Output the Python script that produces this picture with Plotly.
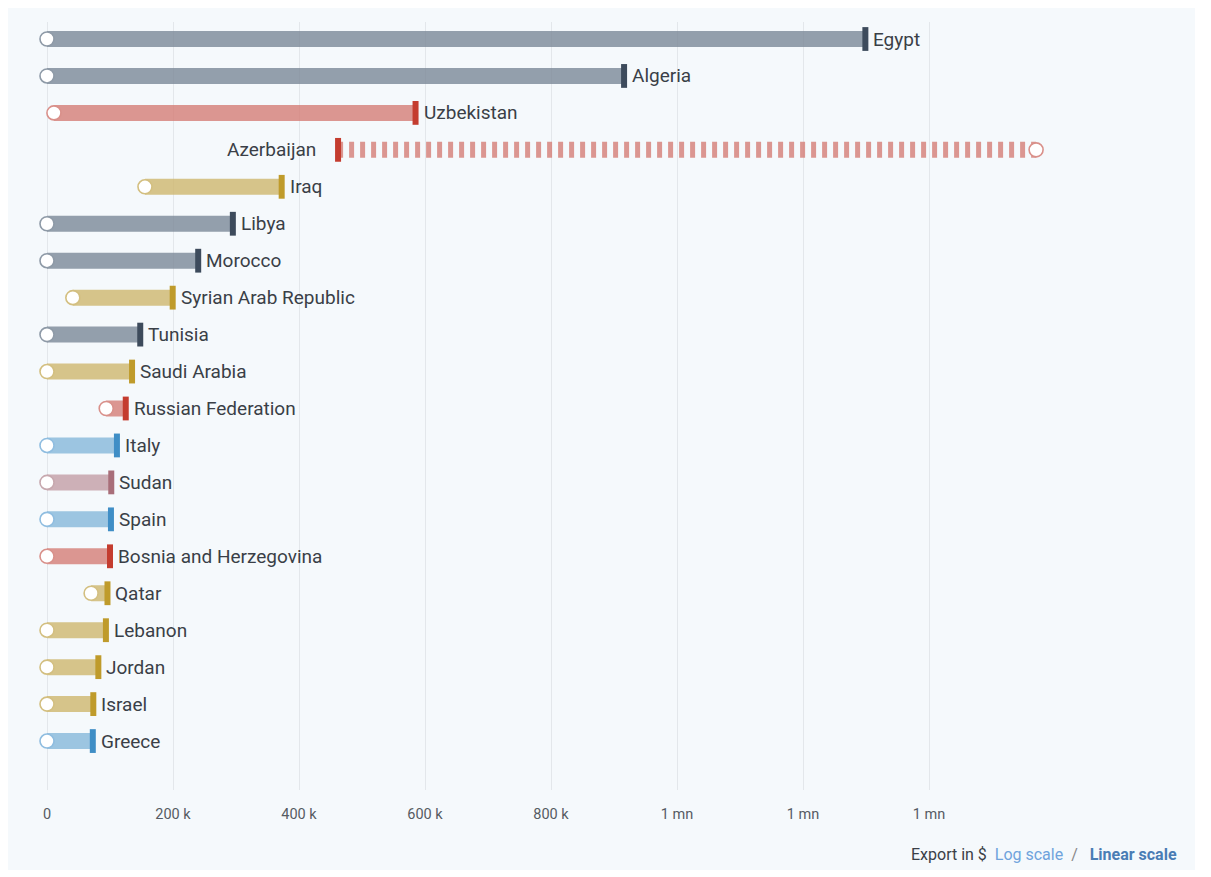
import plotly.graph_objects as go

countries = ["Egypt", "Algeria", "Uzbekistan", "Azerbaijan", "Iraq", "Libya", "Morocco",
             "Syrian Arab Republic", "Tunisia", "Saudi Arabia", "Russian Federation", "Italy",
             "Sudan", "Spain", "Bosnia and Herzegovina", "Qatar", "Lebanon", "Jordan",
             "Israel", "Greece"]
start_values = [0, 0, 11000, 1570000, 155500, 0, 0, 41000, 0, 0, 94000, 0,
                0, 0, 0, 70000, 0, 0, 0, 0]
end_values = [1299000, 916000, 585000, 462000, 372500, 295000, 240000, 199500, 148000, 135000,
              125000, 111000, 102000, 101500, 100000, 96000, 93500, 81500, 73500, 72700]
groups = ["grey", "grey", "red", "red", "yellow", "grey", "grey", "yellow", "grey", "yellow",
          "red", "blue", "mauve", "blue", "red", "yellow", "yellow", "yellow", "yellow", "blue"]

tick_vals = [0, 200000, 400000, 600000, 800000, 1000000, 1200000, 1400000]
tick_text = ["0", "200 k", "400 k", "600 k", "800 k", "1 mn", "1 mn", "1 mn"]

bar_colors = {
    "grey": "rgba(122,136,151,0.8)",
    "red": "rgba(213,125,117,0.8)",
    "yellow": "rgba(206,183,109,0.8)",
    "blue": "rgba(134,184,218,0.8)",
    "mauve": "rgba(195,158,165,0.8)",
}
ring_colors = {
    "grey": "#8e9aa7",
    "red": "#d9908a",
    "yellow": "#d3bf80",
    "blue": "#8fbde0",
    "mauve": "#c7a8ae",
}
end_colors = {
    "grey": "#3d4b5c",
    "red": "#c43c2f",
    "yellow": "#bf9b2b",
    "blue": "#3f8ec6",
    "mauve": "#a86e79",
}

FONT = "Roboto, 'Noto Sans', sans-serif"
fig = go.Figure()

n = len(countries)
ys = list(range(n))

# bars
for i in range(n):
    s, e, g = start_values[i], end_values[i], groups[i]
    decreasing = s > e
    fig.add_trace(go.Scatter(
        x=[s, e], y=[i, i], mode="lines",
        line=dict(color=bar_colors[g], width=16, dash="5px,6px" if decreasing else "solid"),
        hoverinfo="skip", showlegend=False,
    ))

# end markers
fig.add_trace(go.Scatter(
    x=end_values, y=ys, mode="markers",
    marker=dict(symbol="line-ns", size=17,
                line=dict(width=6, color=[end_colors[g] for g in groups])),
    hoverinfo="skip", showlegend=False, cliponaxis=False,
))

# start circles
fig.add_trace(go.Scatter(
    x=start_values, y=ys, mode="markers",
    marker=dict(symbol="circle", size=14, color="white",
                line=dict(width=1.6, color=[ring_colors[g] for g in groups])),
    hoverinfo="skip", showlegend=False, cliponaxis=False,
))

# labels
for i in range(n):
    s, e = start_values[i], end_values[i]
    if s > e:
        fig.add_annotation(x=e, y=i, text=countries[i], showarrow=False,
                           xanchor="right", xshift=-20, yanchor="middle",
                           font=dict(family=FONT, size=19, color="#3a3f47"))
    else:
        fig.add_annotation(x=e, y=i, text=countries[i], showarrow=False,
                           xanchor="left", xshift=6, yanchor="middle",
                           font=dict(family=FONT, size=19, color="#3a3f47"))

OFF = 8  # page body margin
W, H = 1211, 877
L, R, T, B = 20 - OFF, 1090 - OFF, 22 - OFF, 790 - OFF
px_per = 0.00063
zero_px = 47 - OFF
x0 = -(zero_px - L) / px_per
x1 = (R - zero_px) / px_per
row0, row_step = 39 - OFF, 36.95
y_top = (T - row0) / row_step
y_bot = (B - row0) / row_step

def px_to_paper_x(px):
    return (px - OFF - L) / (R - L)

def px_to_paper_y(py):
    return (B - (py - OFF)) / (B - T)

# panel background
fig.add_shape(type="rect", xref="paper", yref="paper",
              x0=px_to_paper_x(7), x1=px_to_paper_x(1195),
              y0=px_to_paper_y(870), y1=px_to_paper_y(-10),
              fillcolor="#f5f9fc", line=dict(width=0), layer="below")

fig.add_annotation(
    xref="paper", yref="paper", x=px_to_paper_x(1179), y=px_to_paper_y(854),
    xanchor="right", yanchor="middle", showarrow=False,
    text="Export in $  <span style='color:#6fa3dc'>Log scale</span>  <span style='color:#888'>/</span>   "
         "<b><span style='color:#4a7db5'>Linear scale</span></b>",
    font=dict(family=FONT, size=16, color="#3a3f47"),
)

fig.update_layout(
    width=W, height=H,
    margin=dict(l=L, r=W - R, t=T, b=H - B, pad=0),
    paper_bgcolor="white", plot_bgcolor="rgba(0,0,0,0)",
    showlegend=False,
    xaxis=dict(range=[x0, x1], tickvals=tick_vals, ticktext=tick_text,
               showgrid=True, gridcolor="#e3e7eb", gridwidth=1, zeroline=False,
               showline=False, ticks="outside", ticklen=11, tickcolor="rgba(0,0,0,0)",
               tickfont=dict(family=FONT, size=14.5, color="#555b63"), fixedrange=True),
    yaxis=dict(range=[y_bot, y_top], visible=False, fixedrange=True),
    font=dict(family=FONT),
)

fig.write_html("out.html", config={"displayModeBar": False})
